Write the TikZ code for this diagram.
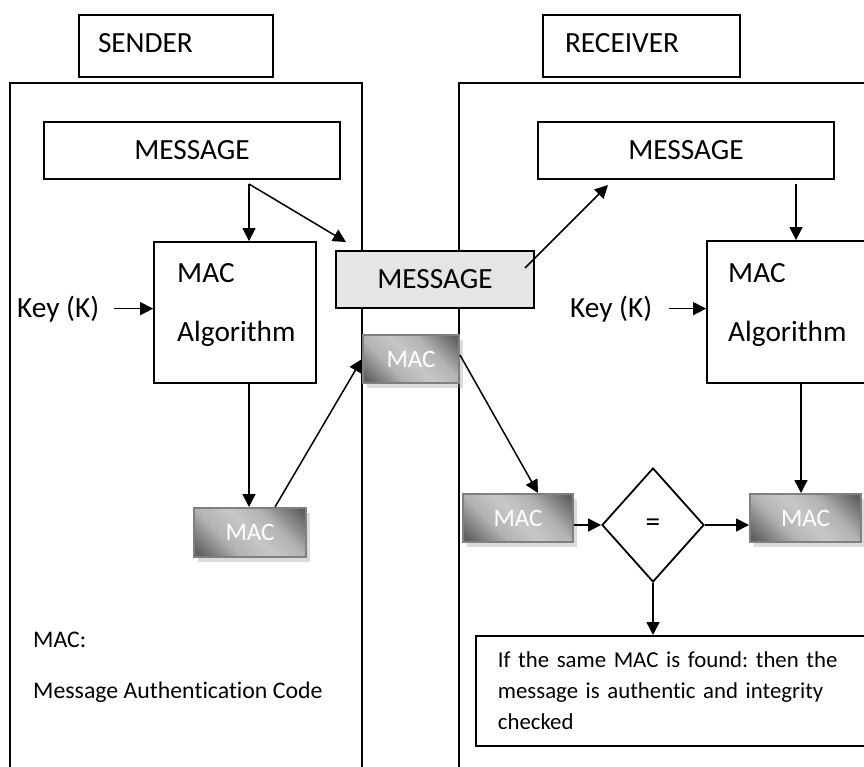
\documentclass[tikz,border=0pt]{standalone}
\usepackage{fontspec}
\setmainfont{Carlito}[Ligatures=NoCommon]
\usetikzlibrary{arrows.meta,shapes.geometric,shadows}
\newcommand\fntL{\fontsize{29.3pt}{35pt}\selectfont}
\newcommand\fntS{\fontsize{23.8pt}{31pt}\selectfont}
\newcommand\fntR{\fontsize{22.8pt}{31pt}\selectfont}
\newcommand\fntM{\fontsize{25pt}{30pt}\selectfont}
\pgfdeclarehorizontalshading{macshade}{100bp}{color(0bp)=(black!64); color(18bp)=(black!62);
  color(36bp)=(black!30); color(50bp)=(black!22); color(64bp)=(black!30); color(82bp)=(black!62); color(100bp)=(black!64)}
\begin{document}
\frenchspacing
\begin{tikzpicture}[x=1pt,y=-1pt,
  box/.style={draw=black, line width=1.8pt, inner sep=0pt, font=\fntL},
  lbl/.style={box, align=left, minimum height=62pt, text height=20pt, text depth=6pt},
  panel/.style={draw=black, line width=1.8pt},
  txt/.style={inner sep=0pt, font=\fntL},
  macbox/.style={draw=black!50, line width=2pt, inner sep=0pt,
    shading=macshade, shading angle=45,
    drop shadow={shadow xshift=4pt, shadow yshift=-5pt, opacity=0.35, fill=black!40},
    text=white, font=\fntM},
  arr/.style={line width=1.5pt, -{Triangle[length=13pt,width=13pt]}}]
\useasboundingbox (0,0) rectangle (864,767);
\clip (0,0) rectangle (864,767);
\fill[white] (0,0) rectangle (864,767);

% title boxes
\node[lbl, text width=156pt, inner xsep=19pt] (sender) at (176,46) {SENDER};
\node[lbl, text width=153pt, inner xsep=22pt] (receiver) at (641.5,46) {RECEIVER};

% panels
\draw[panel] (10,83) rectangle (362,830);
\draw[panel] (459,83) rectangle (920,830);

% sender side
\node[box, minimum width=296pt, minimum height=57pt] (sMsg) at (192,150.5) {MESSAGE};
\node[box, minimum width=162pt, minimum height=141pt] (sAlg) at (235,312.5) {};
\node[txt, anchor=base west] (sAlgA) at (177,282) {MAC};
\node[txt, anchor=base west] (sAlgB) at (177,341) {Algorithm};
\node[txt, anchor=base west] (sKey) at (17,317) {Key (K)};
\node[macbox, minimum width=112pt, minimum height=49pt] (sMac) at (250,532.5) {MAC};
\node[txt, font=\fntS, anchor=base west] (defA) at (33,647) {MAC:};
\node[txt, font=\fntS, anchor=base west] (defB) at (33,698) {Message Authentication Code};

% centre
\node[box, fill=black!10, minimum width=198pt, minimum height=57pt] (cMsg) at (435,279.5) {MESSAGE};
\node[macbox, minimum width=96pt, minimum height=48pt] (cMac) at (411,359) {MAC};

% receiver side
\node[box, minimum width=296pt, minimum height=57pt] (rMsg) at (686,150.5) {MESSAGE};
\node[box, minimum width=162pt, minimum height=142pt] (rAlg) at (788,312) {};
\node[txt, anchor=base west] (rAlgA) at (728,282) {MAC};
\node[txt, anchor=base west] (rAlgB) at (728,341) {Algorithm};
\node[txt, anchor=base west] (rKey) at (570,317) {Key (K)};
\node[macbox, minimum width=110pt, minimum height=48pt] (rMac1) at (518,518) {MAC};
\node[macbox, minimum width=111pt, minimum height=48pt] (rMac2) at (805.5,518) {MAC};
\node[draw=black, line width=1.8pt, diamond, minimum width=102pt, minimum height=114pt,
      inner sep=0pt, font=\fntL] (dia) at (653,525) {=};
\node[box, anchor=north west, text width=380pt, inner xsep=22pt, minimum height=110pt,
      align=left, font=\fntR] (res) at (475,635)
  {If the same MAC is found: then the\\message is authentic and integrity\\checked};

% connectors
\coordinate (ssplit) at (249,184);
\coordinate (cIn) at (346,242);
\coordinate (cOut) at (525,268);
\coordinate (rIn) at (608,185);
\coordinate (rsplit) at (796,184);

\draw[arr] (ssplit) -- (ssplit |- sAlg.north);
\draw[arr] (ssplit) -- (cIn);
\draw[arr] ([xshift=15pt]sKey.east) -- (sKey.east -| sAlg.west);
\draw[arr] (ssplit |- sAlg.south) -- (ssplit |- sMac.north);
\draw[arr] ([xshift=25pt]sMac.north) -- (cMac.west);
\draw[arr] (cOut) -- (rIn);
\draw[arr] (rsplit) -- (rsplit |- rAlg.north);
\draw[arr] ([xshift=17pt]rKey.east) -- (rKey.east -| rAlg.west);
\draw[arr] ([yshift=4pt]cMac.east) -- ([xshift=20pt]rMac1.north);
\draw[arr] (rMac1.east |- dia.west) -- (dia.west);
\draw[arr] (dia.east) -- (dia.east -| rMac2.west);
\draw[arr] ([xshift=13pt]rAlg.south) -- ([xshift=13pt]rAlg.south |- rMac2.north);
\draw[arr] (dia.south) -- (dia.south |- res.north);
\end{tikzpicture}
\end{document}
